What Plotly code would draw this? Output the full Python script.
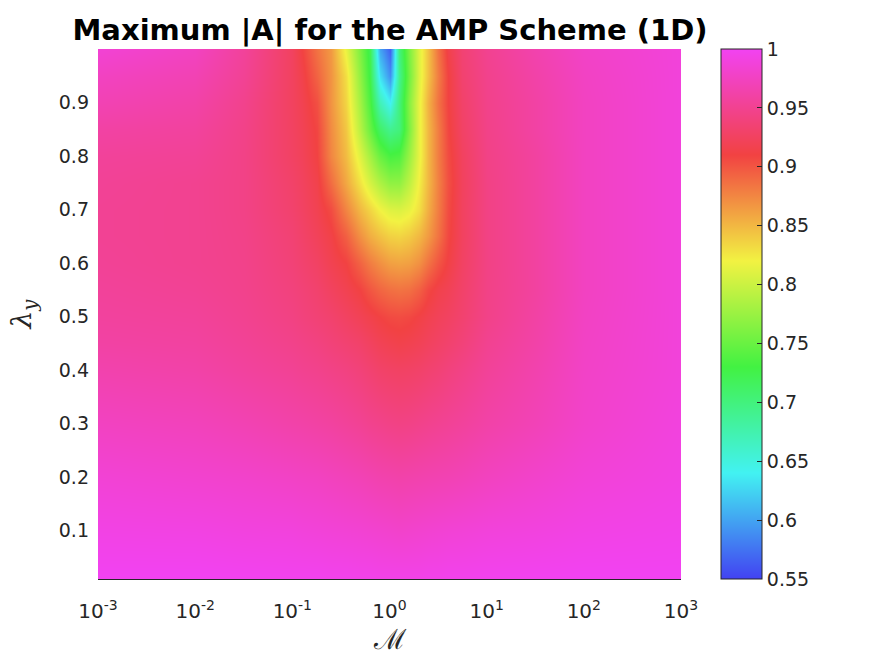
import plotly.graph_objects as go

# Mach-like parameter M (log-spaced sample points) and lambda_y rows
M_vals = [0.001, 0.01, 0.0316, 0.1, 0.126, 0.178, 0.251, 0.355, 0.501, 0.631, 0.794, 1.0,
          1.259, 1.585, 1.995, 2.512, 3.162, 3.981, 5.623, 10.0, 31.62, 100.0, 1000.0]
lam_vals = [0.01, 0.1, 0.2, 0.3, 0.4, 0.45, 0.5, 0.55, 0.6, 0.65, 0.7, 0.75, 0.8, 0.85, 0.9, 0.95, 1.0]

z_l100 = [0.985, 0.975, 0.955, 0.925, 0.91, 0.885, 0.865, 0.815, 0.76, 0.72, 0.6, 0.565, 0.7, 0.76, 0.81, 0.845, 0.885, 0.915, 0.935, 0.95, 0.965, 0.978, 0.988]
z_l095 = [0.975, 0.968, 0.952, 0.925, 0.915, 0.893, 0.868, 0.83, 0.77, 0.725, 0.63, 0.59, 0.69, 0.755, 0.81, 0.845, 0.88, 0.91, 0.933, 0.948, 0.962, 0.976, 0.988]
z_l090 = [0.968, 0.962, 0.948, 0.925, 0.918, 0.903, 0.868, 0.835, 0.78, 0.735, 0.67, 0.64, 0.7, 0.765, 0.815, 0.853, 0.885, 0.91, 0.93, 0.947, 0.96, 0.975, 0.988]
z_l085 = [0.96, 0.957, 0.946, 0.926, 0.92, 0.908, 0.872, 0.842, 0.79, 0.75, 0.71, 0.69, 0.7, 0.76, 0.815, 0.85, 0.88, 0.908, 0.928, 0.946, 0.96, 0.975, 0.988]
z_l080 = [0.955, 0.953, 0.945, 0.927, 0.922, 0.91, 0.875, 0.848, 0.81, 0.78, 0.75, 0.733, 0.737, 0.775, 0.815, 0.85, 0.88, 0.905, 0.925, 0.945, 0.958, 0.975, 0.988]
z_l075 = [0.953, 0.95, 0.945, 0.93, 0.925, 0.915, 0.888, 0.858, 0.828, 0.805, 0.785, 0.77, 0.77, 0.793, 0.822, 0.85, 0.878, 0.903, 0.924, 0.944, 0.958, 0.975, 0.988]
z_l070 = [0.952, 0.95, 0.945, 0.932, 0.927, 0.918, 0.905, 0.876, 0.85, 0.835, 0.82, 0.81, 0.808, 0.815, 0.83, 0.855, 0.88, 0.905, 0.925, 0.944, 0.958, 0.975, 0.988]
z_l065 = [0.952, 0.95, 0.946, 0.935, 0.93, 0.922, 0.913, 0.895, 0.87, 0.855, 0.845, 0.837, 0.835, 0.84, 0.85, 0.865, 0.885, 0.907, 0.925, 0.944, 0.958, 0.975, 0.988]
z_l060 = [0.953, 0.95, 0.947, 0.937, 0.933, 0.927, 0.918, 0.91, 0.893, 0.88, 0.87, 0.862, 0.86, 0.862, 0.87, 0.885, 0.9, 0.912, 0.927, 0.944, 0.958, 0.975, 0.988]
z_l055 = [0.955, 0.952, 0.948, 0.94, 0.937, 0.932, 0.925, 0.918, 0.91, 0.9, 0.892, 0.887, 0.885, 0.887, 0.895, 0.907, 0.915, 0.92, 0.93, 0.945, 0.958, 0.975, 0.988]
z_l050 = [0.957, 0.955, 0.95, 0.943, 0.94, 0.936, 0.932, 0.926, 0.92, 0.915, 0.91, 0.906, 0.905, 0.907, 0.912, 0.917, 0.922, 0.926, 0.933, 0.946, 0.96, 0.976, 0.988]
z_l045 = [0.96, 0.958, 0.953, 0.947, 0.945, 0.942, 0.938, 0.934, 0.93, 0.925, 0.92, 0.917, 0.915, 0.917, 0.92, 0.924, 0.928, 0.932, 0.938, 0.95, 0.962, 0.977, 0.988]
z_l040 = [0.965, 0.962, 0.957, 0.952, 0.95, 0.948, 0.945, 0.942, 0.938, 0.934, 0.93, 0.928, 0.927, 0.928, 0.93, 0.933, 0.936, 0.94, 0.945, 0.954, 0.965, 0.978, 0.988]
z_l030 = [0.975, 0.972, 0.968, 0.963, 0.962, 0.96, 0.958, 0.955, 0.952, 0.949, 0.947, 0.945, 0.944, 0.945, 0.947, 0.949, 0.951, 0.953, 0.956, 0.962, 0.97, 0.98, 0.99]
z_l020 = [0.985, 0.982, 0.98, 0.977, 0.976, 0.975, 0.973, 0.971, 0.969, 0.967, 0.965, 0.964, 0.963, 0.964, 0.965, 0.966, 0.967, 0.968, 0.97, 0.974, 0.98, 0.986, 0.992]
z_l010 = [0.993, 0.992, 0.99, 0.989, 0.988, 0.987, 0.986, 0.985, 0.984, 0.983, 0.982, 0.981, 0.98, 0.981, 0.982, 0.983, 0.984, 0.985, 0.986, 0.988, 0.99, 0.993, 0.996]
z_l001 = [1.0, 1.0, 0.999, 0.998, 0.998, 0.998, 0.997, 0.997, 0.996, 0.996, 0.995, 0.995, 0.995, 0.995, 0.995, 0.996, 0.996, 0.997, 0.997, 0.998, 0.999, 1.0, 1.0]

z_rows = [z_l001, z_l010, z_l020, z_l030, z_l040, z_l045, z_l050, z_l055, z_l060, z_l065,
          z_l070, z_l075, z_l080, z_l085, z_l090, z_l095, z_l100]

x_tickvals = [1e-3, 1e-2, 1e-1, 1, 10, 100, 1000]
x_ticktext = ["10<sup>-3</sup>", "10<sup>-2</sup>", "10<sup>-1</sup>", "10<sup>0</sup>",
              "10<sup>1</sup>", "10<sup>2</sup>", "10<sup>3</sup>"]
y_tickvals = [0.1, 0.2, 0.3, 0.4, 0.5, 0.6, 0.7, 0.8, 0.9]
cb_tickvals = [0.55, 0.6, 0.65, 0.7, 0.75, 0.8, 0.85, 0.9, 0.95, 1.0]
cb_ticktext = ["0.55", "0.6", "0.65", "0.7", "0.75", "0.8", "0.85", "0.9", "0.95", "1"]

hsv_scale = [
    [0.0, "rgb(66,66,242)"],
    [0.2, "rgb(66,242,242)"],
    [0.4, "rgb(66,242,66)"],
    [0.6, "rgb(242,242,66)"],
    [0.8, "rgb(242,66,66)"],
    [1.0, "rgb(242,66,242)"],
]

tick_font = dict(family="DejaVu Sans", size=19, color="#262626")
xtick_font = dict(family="DejaVu Sans", size=20, color="#262626")

fig = go.Figure(go.Heatmap(
    x=M_vals, y=lam_vals, z=z_rows,
    zmin=0.55, zmax=1.0, zsmooth="best",
    colorscale=hsv_scale,
    colorbar=dict(
        x=1.0686, xanchor="left", xref="paper",
        y=0, yanchor="bottom", len=1, lenmode="fraction",
        thickness=41, outlinecolor="#262626", outlinewidth=1,
        ticks="inside", ticklen=5, tickcolor="#262626",
        tickvals=cb_tickvals, ticktext=cb_ticktext,
        tickfont=tick_font, ypad=0, xpad=0,
    ),
))

fig.update_layout(
    width=875, height=656,
    margin=dict(l=98, r=194, t=49, b=77),
    paper_bgcolor="white", plot_bgcolor="white",
    title=dict(text="<b>Maximum |A| for the AMP Scheme (1D)</b>",
               x=390 / 875, xanchor="center", y=1 - 30 / 656, yanchor="middle",
               font=dict(family="DejaVu Sans", size=29, color="black")),
)
fig.update_xaxes(
    type="log", range=[-3, 3], tickvals=x_tickvals, ticktext=x_ticktext,
    tickfont=xtick_font, ticks="", ticklabelstandoff=14, showgrid=False, zeroline=False,
    showline=True, linecolor="#262626", linewidth=1, mirror=False,
    title=dict(text="ℳ", font=dict(family="DejaVu Serif", size=28, color="#262626"), standoff=0),
)
fig.update_yaxes(
    range=[0.01, 1.0], tickvals=y_tickvals, tickfont=tick_font, ticks="",
    ticklabelstandoff=8, showgrid=False, zeroline=False, showline=False,
    title=dict(text="<i>λ<sub>y</sub></i>", font=dict(family="DejaVu Serif", size=28, color="#262626"), standoff=18),
)

fig.write_html("out.html")
